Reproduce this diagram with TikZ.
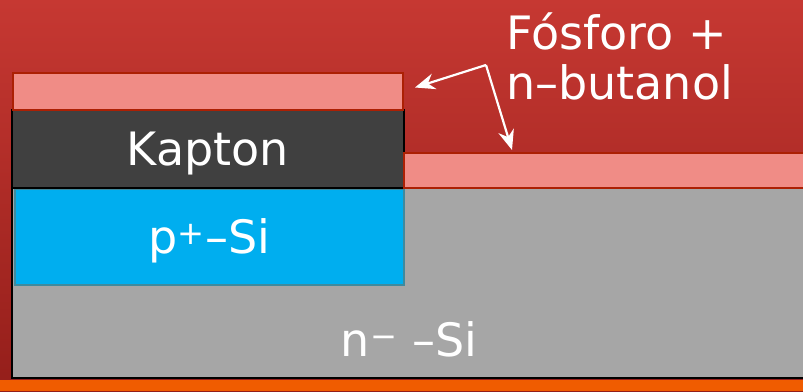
\documentclass[tikz,border=0pt]{standalone}
\usepackage{fontspec}
\setmainfont{DejaVu Sans}
\usepackage{xcolor}
\usepackage{tikz}
\usetikzlibrary{arrows.meta, positioning, calc}

\definecolor{bgtop}{RGB}{198,56,50}
\definecolor{bgbot}{RGB}{148,30,26}
\definecolor{dopant}{RGB}{240,140,134}
\definecolor{dopantedge}{RGB}{172,32,4}
\definecolor{kapton}{RGB}{64,64,64}
\definecolor{psi}{RGB}{0,174,239}
\definecolor{psiedge}{RGB}{62,138,158}
\definecolor{nsi}{RGB}{166,166,166}
\definecolor{contact}{RGB}{240,92,0}

\begin{document}
\begin{tikzpicture}[
    x=1pt, y=-1pt,
    every node/.style={font=\fontsize{46}{50}\selectfont, text=white, inner sep=0pt},
    layer/.style={rectangle, anchor=north west, outer sep=0pt,
                  text height=33pt, text depth=0pt},
    dopelayer/.style={layer, fill=dopant, draw=dopantedge, line width=1.5pt},
    pointer/.style={-{Stealth[length=20pt, width=16pt]}, draw=white, line width=2.2pt}
]

% background
\useasboundingbox (0,0) rectangle (803,391);
\shade[top color=bgtop, bottom color=bgbot] (0,0) rectangle (803,391);

% back contact
\fill[contact] (0,380) rectangle (803,391);

% n-type substrate
\node[layer, fill=nsi, draw=black, line width=2.5pt,
      minimum width=800pt, minimum height=190pt] (nsi) at (12,188) {};
\node (nsilabel) at (409,339) {n\textsuperscript{−} –Si};

% p+ region
\node[layer, fill=psi, draw=psiedge, line width=1.5pt,
      minimum width=389pt, minimum height=96pt] (psi) at (15,189) {p\textsuperscript{+}–Si};

% Kapton mask
\node[layer, fill=kapton, draw=black, line width=2pt,
      minimum width=392pt, minimum height=78pt] (kapton) at (12,110) {Kapton};

% dopant film: on the mask and on the open silicon
\node[dopelayer, minimum width=390pt, minimum height=37pt] (dopetop) at (13,73) {};
\node[dopelayer, minimum width=405pt, minimum height=35pt] (dopeside) at (404,153) {};

% label and pointers
\node[align=left, anchor=north west] (source) at (506,13) {Fósforo +\\n–butanol};
\coordinate (bend) at (486,65);
\coordinate (tiptop) at ($(dopetop.east)+(12,-4)$);
\coordinate (tipside) at ($(dopeside.north west)+(108,-3)$);
\draw[pointer] (bend) -- (tiptop);
\draw[pointer] (bend) -- (tipside);

\end{tikzpicture}
\end{document}
